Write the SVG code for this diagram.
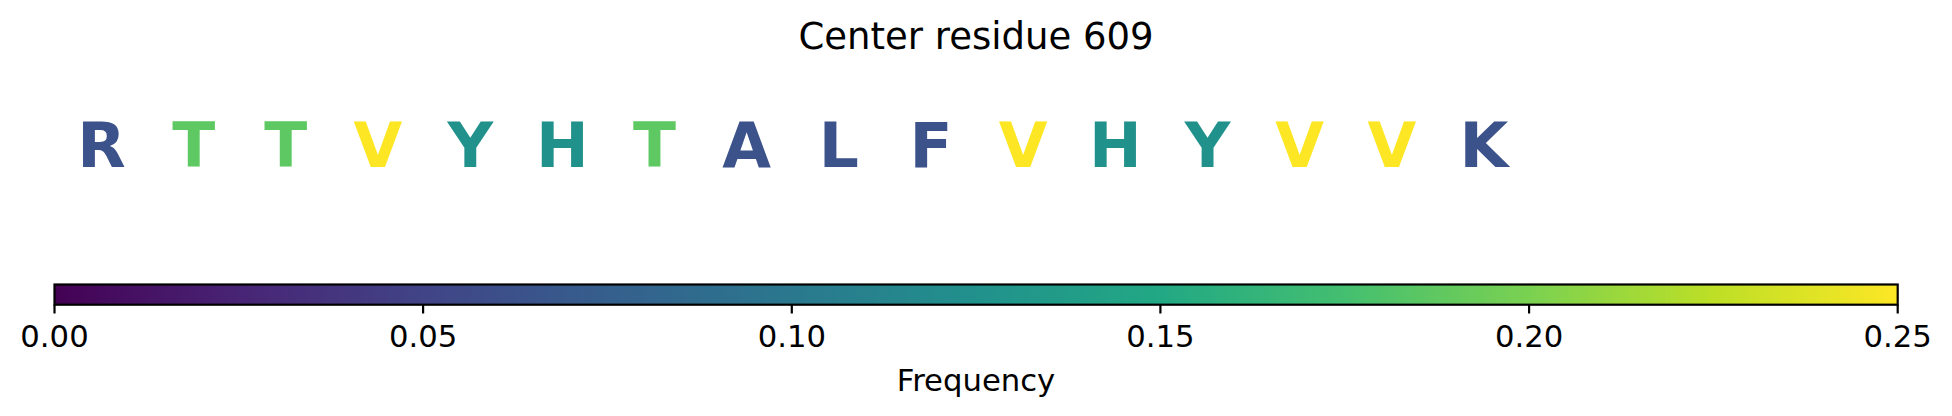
<svg xmlns="http://www.w3.org/2000/svg" width="1952" height="416" viewBox="0 0 1952 416">
<style>
text{font-family:"DejaVu Sans","Liberation Sans",sans-serif;fill:#000}
.res{font-size:63px;font-weight:bold;text-anchor:middle}
.c1{fill:#3b528b}.c2{fill:#21918c}.c3{fill:#5ec962}.c4{fill:#fde725}
.tick{stroke:#000;stroke-width:2.2}
.tl{font-size:30.7px;text-anchor:middle}
</style>
<defs>
<linearGradient id="viridis" x1="0" y1="0" x2="1" y2="0">
<stop offset="0" stop-color="#440154"/>
<stop offset="0.1" stop-color="#482475"/>
<stop offset="0.2" stop-color="#414487"/>
<stop offset="0.3" stop-color="#355f8d"/>
<stop offset="0.4" stop-color="#2a788e"/>
<stop offset="0.5" stop-color="#21918c"/>
<stop offset="0.6" stop-color="#22a884"/>
<stop offset="0.7" stop-color="#44bf70"/>
<stop offset="0.8" stop-color="#7ad151"/>
<stop offset="0.9" stop-color="#bddf26"/>
<stop offset="1" stop-color="#fde725"/>
</linearGradient>
</defs>
<rect width="1952" height="416" fill="#fff"/>
<g id="title"><text x="976" y="48.5" style="font-size:37px;text-anchor:middle">Center residue 609</text></g>
<g id="residues">
<text id="r0" class="res c1" x="101.5" y="166.5">R</text>
<text id="r1" class="res c3" x="193.7" y="166.5">T</text>
<text id="r2" class="res c3" x="285.8" y="166.5">T</text>
<text id="r3" class="res c4" x="378" y="166.5">V</text>
<text id="r4" class="res c2" x="470.2" y="166.5">Y</text>
<text id="r5" class="res c2" x="562.3" y="166.5">H</text>
<text id="r6" class="res c3" x="654.5" y="166.5">T</text>
<text id="r7" class="res c1" x="746.7" y="166.5">A</text>
<text id="r8" class="res c1" x="838.9" y="166.5">L</text>
<text id="r9" class="res c1" x="931" y="166.5">F</text>
<text id="r10" class="res c4" x="1023.2" y="166.5">V</text>
<text id="r11" class="res c2" x="1115.4" y="166.5">H</text>
<text id="r12" class="res c2" x="1207.5" y="166.5">Y</text>
<text id="r13" class="res c4" x="1299.7" y="166.5">V</text>
<text id="r14" class="res c4" x="1391.9" y="166.5">V</text>
<text id="r15" class="res c1" x="1484" y="166.5">K</text>
</g>
<g id="colorbar">
<rect x="54.5" y="284.5" width="1843.2" height="20.2" fill="url(#viridis)" stroke="#000" stroke-width="2.2"/>
<line class="tick" x1="54.5" y1="304.7" x2="54.5" y2="313.5"/>
<line class="tick" x1="423.1" y1="304.7" x2="423.1" y2="313.5"/>
<line class="tick" x1="791.8" y1="304.7" x2="791.8" y2="313.5"/>
<line class="tick" x1="1160.4" y1="304.7" x2="1160.4" y2="313.5"/>
<line class="tick" x1="1529.1" y1="304.7" x2="1529.1" y2="313.5"/>
<line class="tick" x1="1897.7" y1="304.7" x2="1897.7" y2="313.5"/>
<text class="tl" x="54.5" y="347">0.00</text>
<text class="tl" x="423.1" y="347">0.05</text>
<text class="tl" x="791.8" y="347">0.10</text>
<text class="tl" x="1160.4" y="347">0.15</text>
<text class="tl" x="1529.1" y="347">0.20</text>
<text class="tl" x="1897.7" y="347">0.25</text>
<text class="tl" x="976" y="390.5">Frequency</text>
</g>
</svg>
